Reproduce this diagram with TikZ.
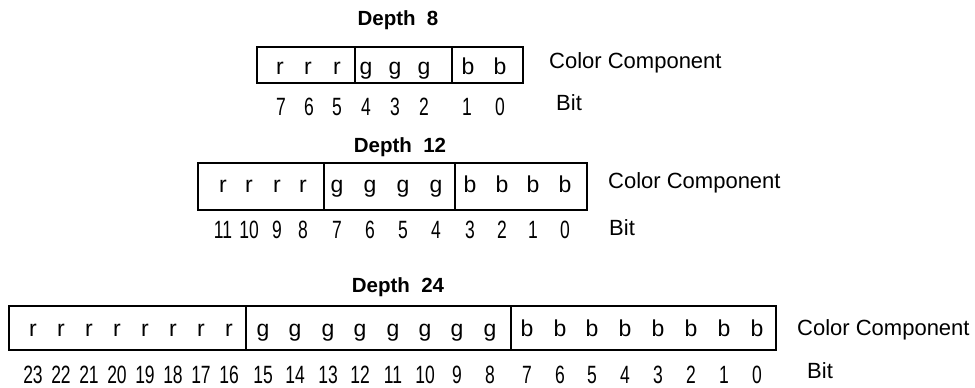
\documentclass[tikz,border=0pt]{standalone}
\usepackage{fontspec}
\setmainfont{Liberation Sans}
\newfontfamily\digitfont[FakeStretch=0.7]{Liberation Sans}
\begin{document}
\begin{tikzpicture}[x=1bp,y=-1bp,
  bitbox/.style={line width=1.6bp},
  divider/.style={line width=1.2bp},
  comp/.style={anchor=base,inner sep=0pt,font=\fontsize{23bp}{25bp}\selectfont},
  bitno/.style={anchor=base,inner sep=0pt,font=\digitfont\fontsize{25bp}{27bp}\selectfont},
  lbl/.style={anchor=base west,inner sep=0pt,font=\fontsize{22bp}{24bp}\selectfont},
  title/.style={anchor=base,inner sep=0pt,font=\bfseries\fontsize{20.5bp}{23bp}\selectfont}]
\useasboundingbox (0,0) rectangle (975,387);

% ---------------- Depth 8 ----------------
\node[title] (t8) at (398,25) {Depth\hspace{0.55em}8};
\draw[bitbox] (257,47) rectangle (523,83);
\draw[divider] (355,47) -- (355,83);
\draw[divider] (452,47) -- (452,83);
\foreach \x/\c [count=\i] in {280/r,308/r,337/r,366/g,395/g,424/g,468/b,500/b}
  \node[comp] (c8\i) at (\x,74) {\c};
\foreach \x/\n in {281/7,309/6,337/5,366/4,395/3,424/2,467/1,500/0}
  \node[bitno] (b8n\n) at (\x,115) {\n};
\node[lbl] (cc8) at (549,68) {Color Component};
\node[lbl] (bit8) at (556,110) {Bit};

% ---------------- Depth 12 ----------------
\node[title] (t12) at (400,152) {Depth\hspace{0.55em}12};
\draw[bitbox] (198,163) rectangle (587,210);
\draw[divider] (324,163) -- (324,210);
\draw[divider] (455,163) -- (455,210);
\foreach \x/\c [count=\i] in {223/r,249/r,277/r,303/r,337/g,370/g,403/g,436/g,470/b,502/b,533/b,565/b}
  \node[comp] (c12\i) at (\x,192) {\c};
\foreach \x/\n in {223/11,249/10,277/9,303/8,337/7,370/6,403/5,436/4,470/3,502/2,533/1,565/0}
  \node[bitno] (b12n\n) at (\x,238) {\n};
\node[lbl] (cc12) at (608,188) {Color Component};
\node[lbl] (bit12) at (609,235) {Bit};

% ---------------- Depth 24 ----------------
\node[title] (t24) at (398,292) {Depth\hspace{0.55em}24};
\draw[bitbox] (9,306) rectangle (776,350);
\draw[divider] (246,306) -- (246,350);
\draw[divider] (511,306) -- (511,350);
\foreach \x/\c [count=\i] in {33/r,61/r,89/r,117/r,145/r,173/r,201/r,229/r,
  263/g,295/g,328/g,360/g,393/g,425/g,457/g,490/g,
  527/b,560/b,592/b,625/b,658/b,691/b,724/b,757/b}
  \node[comp] (c24\i) at (\x,336) {\c};
\foreach \x/\n in {33/23,61/22,89/21,117/20,145/19,173/18,201/17,229/16,
  263/15,295/14,328/13,360/12,393/11,425/10,457/9,490/8,
  527/7,560/6,592/5,625/4,658/3,691/2,724/1,757/0}
  \node[bitno] (b24n\n) at (\x,383) {\n};
\node[lbl] (cc24) at (797,335) {Color Component};
\node[lbl] (bit24) at (807,378) {Bit};
\end{tikzpicture}
\end{document}
